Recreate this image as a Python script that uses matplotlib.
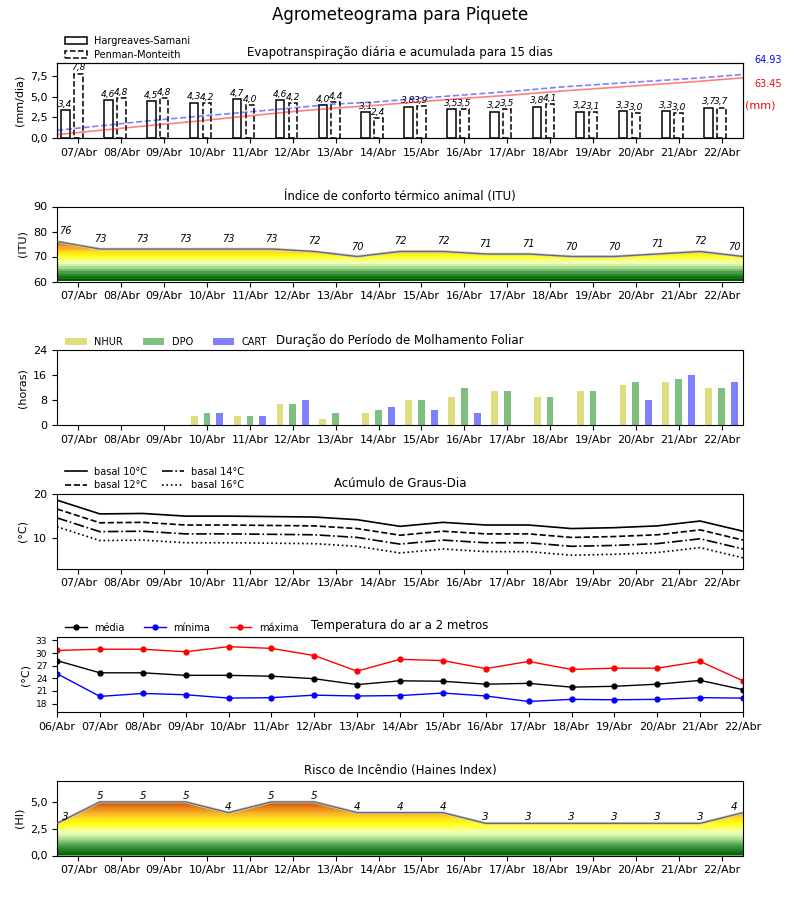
import numpy as np
import matplotlib
matplotlib.use("Agg")
import matplotlib.pyplot as plt
from matplotlib.colors import LinearSegmentedColormap

# ---------------- data ----------------
days = ["07/Abr", "08/Abr", "09/Abr", "10/Abr", "11/Abr", "12/Abr", "13/Abr", "14/Abr",
        "15/Abr", "16/Abr", "17/Abr", "18/Abr", "19/Abr", "20/Abr", "21/Abr", "22/Abr"]
days_temp = ["06/Abr"] + days

et_hs = [3.4, 4.6, 4.5, 4.3, 4.7, 4.6, 4.0, 3.1, 3.8, 3.5, 3.2, 3.8, 3.2, 3.3, 3.3, 3.7]
et_pm = [7.8, 4.8, 4.8, 4.2, 4.0, 4.2, 4.4, 2.4, 3.9, 3.5, 3.5, 4.1, 3.1, 3.0, 3.0, 3.7]
total_hs = "63.45"
total_pm = "64.93"

itu = [76, 73, 73, 73, 73, 73, 72, 70, 72, 72, 71, 71, 70, 70, 71, 72, 70]

nhur = [0, 0, 0, 3, 3, 7, 2, 4, 8, 9, 11, 9, 11, 13, 14, 12]
dpo = [0, 0, 0, 4, 3, 7, 4, 5, 8, 12, 11, 9, 11, 14, 15, 12]
cart = [0, 0, 0, 4, 3, 8, 0, 6, 5, 4, 0, 0, 0, 8, 16, 14]

gd10 = [18.5, 15.4, 15.5, 14.9, 14.9, 14.8, 14.7, 14.1, 12.6, 13.5, 12.9, 12.9, 12.1, 12.3, 12.7, 13.8, 11.5]
gd12 = [16.5, 13.4, 13.5, 12.9, 12.9, 12.8, 12.7, 12.1, 10.6, 11.5, 10.9, 10.9, 10.1, 10.3, 10.7, 11.8, 9.5]
gd14 = [14.5, 11.4, 11.5, 10.9, 10.9, 10.8, 10.7, 10.1, 8.6, 9.5, 8.9, 8.9, 8.1, 8.3, 8.7, 9.8, 7.5]
gd16 = [12.5, 9.4, 9.5, 8.9, 8.9, 8.8, 8.7, 8.1, 6.6, 7.5, 6.9, 6.9, 6.1, 6.3, 6.7, 7.8, 5.5]

t_med = [28.2, 25.3, 25.3, 24.7, 24.7, 24.5, 23.9, 22.5, 23.4, 23.3, 22.6, 22.8, 21.9, 22.1, 22.6, 23.5, 21.3]
t_min = [25.1, 19.7, 20.4, 20.1, 19.3, 19.4, 20.0, 19.8, 19.9, 20.5, 19.8, 18.5, 19.0, 18.9, 19.0, 19.4, 19.3]
t_max = [30.6, 30.9, 30.9, 30.3, 31.5, 31.1, 29.4, 25.7, 28.5, 28.2, 26.3, 28.0, 26.1, 26.4, 26.4, 28.0, 23.4]

haines = [3, 5, 5, 5, 4, 5, 5, 4, 4, 4, 3, 3, 3, 3, 3, 3, 4]

# ---------------- helpers ----------------
def comma(v, fmt="{:.1f}"):
    return fmt.format(v).replace(".", ",")

risk_cmap = LinearSegmentedColormap.from_list(
    "risk",
    [(0.0, "#005a00"), (0.1, "#1f7f1f"), (0.2, "#4fa04f"), (0.3, "#9ad48a"),
     (0.38, "#d8f5a8"), (0.45, "#f0ffb8"), (0.52, "#ffff60"), (0.6, "#ffff10"),
     (0.7, "#ffe020"), (0.8, "#f8b028"), (0.9, "#e88018"), (1.0, "#cc5000")])

def gradient_fill(ax, x, vals, base, top, steps=None):
    poly = ax.fill_between(x, base, vals, facecolor="none", edgecolor="none")
    path = poly.get_paths()[0]
    ytop = max(top, max(vals))
    yy = np.linspace(base, ytop, 400)
    if steps is not None:
        yy = np.floor((yy - base) / steps) * steps + base
    grad = yy.reshape(-1, 1)
    im = ax.imshow(grad, extent=[x[0], x[-1], base, ytop], origin="lower",
                   aspect="auto", cmap=risk_cmap, vmin=base, vmax=top, zorder=1,
                   interpolation="nearest")
    im.set_clip_path(path, transform=ax.transData)
    ax.plot(x, vals, color="0.82", lw=2.0, zorder=2)
    ax.plot(x, vals, color="0.42", lw=1.0, zorder=3)

W, H = 800, 900
fig = plt.figure(figsize=(8, 9), dpi=100)
left = 57 / W
width = 686 / W
ah = 75 / H
tops = [63, 206.5, 350.5, 493.5, 637, 780.5]
axes = [fig.add_axes([left, 1 - (t + 75) / H, width, ah]) for t in tops]

fig.suptitle("Agrometeograma para Piquete", y=0.993, fontsize=12)

n = len(days)
xi = np.arange(n)
xs = np.arange(n + 1) - 0.5  # between-day positions spanning full axis
tick_fs = 8
title_fs = 8.5

# ---------------- panel 1: ET ----------------
ax = axes[0]
w = 0.2
ax.bar(xi - 0.3, et_hs, width=w, facecolor="white", edgecolor="black", lw=1.1,
       label="Hargreaves-Samani", zorder=2)
ax.bar(xi, et_pm, width=w, facecolor="white", edgecolor="black", lw=1.1,
       linestyle="--", label="Penman-Monteith", zorder=2)
for i in range(n):
    ax.text(xi[i] - 0.3, et_hs[i] + 0.15, comma(et_hs[i]), ha="center", va="bottom",
            fontsize=6.5, style="italic")
    ax.text(xi[i], et_pm[i] + 0.15, comma(et_pm[i]), ha="center", va="bottom",
            fontsize=6.5, style="italic")
ax.set_xlim(-0.5, n - 0.5)
ax.set_ylim(0, 9.1)
ax.set_yticks([0, 2.5, 5, 7.5])
ax.set_yticklabels([comma(v) for v in [0, 2.5, 5, 7.5]])
ax.set_ylabel("(mm/dia)", fontsize=8)
ax.legend(loc="lower left", bbox_to_anchor=(0.005, 0.98), frameon=False, fontsize=7,
          ncol=1, handlelength=2.2, borderaxespad=0.1, labelspacing=0.35)
ax.set_title("Evapotranspiração diária e acumulada para 15 dias", fontsize=title_fs, pad=5)
axb = ax.twinx()
xc = np.linspace(-0.5, n - 0.5, n)
axb.plot(xc, np.cumsum(et_hs), color="red", alpha=0.5, lw=1.2)
axb.plot(xc, np.cumsum(et_pm), color="blue", alpha=0.5, lw=1.2, ls="--")
axb.set_ylim(0, 76)
axb.set_yticks([])
axb.set_xlim(-0.5, n - 0.5)
ax.text(1.017, 1.04, total_pm, transform=ax.transAxes, color="blue", fontsize=7, va="center")
ax.text(1.017, 0.72, total_hs, transform=ax.transAxes, color="red", fontsize=7, va="center")
ax.text(1.003, 0.44, "(mm)", transform=ax.transAxes, color="red", fontsize=8, va="center")

# ---------------- panel 2: ITU ----------------
ax = axes[1]
gradient_fill(ax, xs, itu, 60, 76, steps=1.0)
for i, v in enumerate(itu):
    xp = xs[i]
    if i == 0:
        xp = xs[i] + 0.2
    elif i == len(itu) - 1:
        xp = xs[i] - 0.2
    ax.text(xp, v + 4, str(v), ha="center", va="center", fontsize=7, style="italic")
ax.set_xlim(-0.5, n - 0.5)
ax.set_ylim(60, 90)
ax.set_yticks([60, 70, 80, 90])
ax.set_ylabel("(ITU)", fontsize=8)
ax.set_title("Índice de conforto térmico animal (ITU)", fontsize=title_fs, pad=5)

# ---------------- panel 3: leaf wetness ----------------
ax = axes[2]
bw = 0.16
ax.bar(xi - 0.3, nhur, width=bw, color="y", alpha=0.5, label="NHUR", lw=0)
ax.bar(xi, dpo, width=bw, color="g", alpha=0.5, label="DPO", lw=0)
ax.bar(xi + 0.3, cart, width=bw, color="b", alpha=0.5, label="CART", lw=0)
ax.set_xlim(-0.5, n - 0.5)
ax.set_ylim(0, 24)
ax.set_yticks([0, 8, 16, 24])
ax.set_ylabel("(horas)", fontsize=8)
ax.legend(loc="lower left", bbox_to_anchor=(0.005, 0.98), frameon=False, fontsize=7,
          ncol=3, handlelength=2.2, borderaxespad=0.1, columnspacing=2.0)
ax.set_title("Duração do Período de Molhamento Foliar", fontsize=title_fs, pad=5)

# ---------------- panel 4: degree days ----------------
ax = axes[3]
ax.plot(xs, gd10, color="black", lw=1.2, ls="-", label="basal 10°C")
ax.plot(xs, gd12, color="black", lw=1.2, ls="--", label="basal 12°C")
ax.plot(xs, gd14, color="black", lw=1.2, ls="-.", label="basal 14°C")
ax.plot(xs, gd16, color="black", lw=1.2, ls=":", label="basal 16°C")
ax.set_xlim(-0.5, n - 0.5)
ax.set_ylim(3.1, 20)
ax.set_yticks([10, 20])
ax.set_ylabel("(°C)", fontsize=8)
ax.legend(loc="lower left", bbox_to_anchor=(0.005, 0.98), frameon=False, fontsize=7,
          ncol=2, handlelength=2.2, borderaxespad=0.1, labelspacing=0.35, columnspacing=1.5)
ax.set_title("Acúmulo de Graus-Dia", fontsize=title_fs, pad=5)

# ---------------- panel 5: temperature ----------------
ax = axes[4]
xt = np.arange(n + 1)
ax.plot(xt, t_med, color="black", marker="o", ms=3.5, lw=1, label="média")
ax.plot(xt, t_min, color="blue", marker="o", ms=3.5, lw=1, label="mínima")
ax.plot(xt, t_max, color="red", marker="o", ms=3.5, lw=1, label="máxima")
ax.set_xlim(0, n)
ax.set_ylim(16, 33.8)
ax.set_yticks([18, 21, 24, 27, 30, 33])
ax.tick_params(axis="y", labelsize=6.5)
ax.set_xticks(xt)
ax.set_xticklabels(days_temp, fontsize=tick_fs)
ax.set_ylabel("(°C)", fontsize=8)
ax.legend(loc="lower left", bbox_to_anchor=(0.005, 0.99), frameon=False, fontsize=7,
          ncol=3, handlelength=2.2, borderaxespad=0.1, columnspacing=2.0)
ax.set_title("Temperatura do ar a 2 metros", fontsize=title_fs, pad=6)

# ---------------- panel 6: Haines ----------------
ax = axes[5]
gradient_fill(ax, xs, haines, 0, 5.0)
for i, v in enumerate(haines):
    xp = xs[i]
    if i == 0:
        xp = xs[i] + 0.2
    elif i == len(haines) - 1:
        xp = xs[i] - 0.2
    ax.text(xp, v + 0.55, str(v), ha="center", va="center", fontsize=7.5, style="italic")
ax.set_xlim(-0.5, n - 0.5)
ax.set_ylim(0, 7)
ax.set_yticks([0, 2.5, 5])
ax.set_yticklabels([comma(v) for v in [0, 2.5, 5]])
ax.set_ylabel("(HI)", fontsize=8)
ax.set_title("Risco de Incêndio (Haines Index)", fontsize=title_fs, pad=5)

for k, ax in enumerate(axes):
    if k != 4:
        ax.set_xticks(xi)
        ax.set_xticklabels(days, fontsize=tick_fs)
        ax.tick_params(axis="y", labelsize=tick_fs)

fig.savefig("out.png", dpi=100)
